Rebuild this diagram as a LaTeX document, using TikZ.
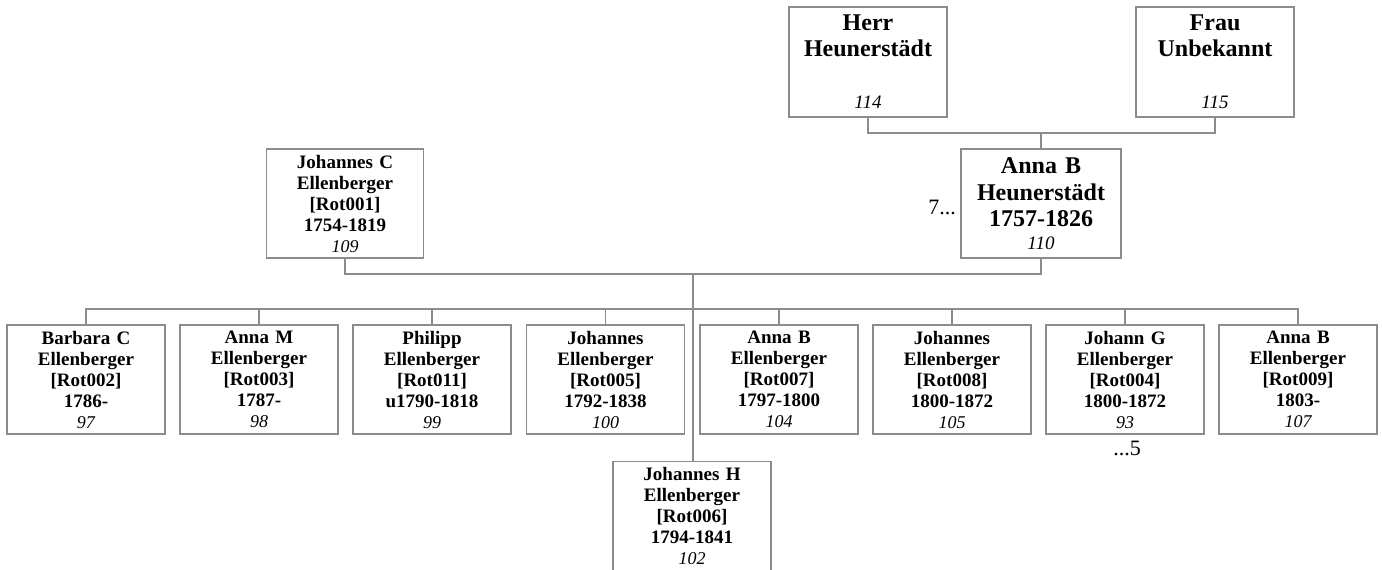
\documentclass[tikz,border=0pt]{standalone}
\usepackage{fontspec}
\setmainfont{Liberation Serif}
\definecolor{linegray}{RGB}{140,140,140}
\tikzset{
  person/.style={draw=linegray, line width=1.3pt, fill=white, minimum width=158pt, minimum height=109pt, inner sep=0pt, align=center, text width=156pt, font=\fontsize{19}{21}\selectfont\bfseries},
  bigperson/.style={person, font=\fontsize{24}{26}\selectfont\bfseries},
  conn/.style={draw=linegray, line width=1.3pt},
  extra/.style={inner sep=0pt, font=\fontsize{22}{24}\selectfont}
}
\newcommand{\kid}[5]{#1\\#2\\{}[#3]\\#4\\{\fontsize{18}{21}\selectfont\mdseries\itshape #5}}
\begin{document}
\begin{tikzpicture}[x=1pt,y=-1pt]
\useasboundingbox (0,0) rectangle (1382,570);
% grandparents
\node[bigperson, minimum height=110pt] (herr) at (868,62) {Herr\\Heunerstädt\\\mbox{}\\{\fontsize{19}{26}\selectfont\mdseries\itshape 114}};
\node[bigperson, minimum height=110pt] (frau) at (1215,62) {Frau\\Unbekannt\\\mbox{}\\{\fontsize{19}{26}\selectfont\mdseries\itshape 115}};
% parents
\node[bigperson, minimum width=160pt, font=\fontsize{24}{26.5}\selectfont\bfseries] (annaH) at (1041,203.5) {Anna B\\Heunerstädt\\1757-1826\\[-4pt]{\fontsize{19}{22}\selectfont\mdseries\itshape 110}};
\node[person, minimum width=157pt] (johC) at (345,203.5) {\kid{Johannes C}{Ellenberger}{Rot001}{1754-1819}{109}};
\node[extra, anchor=east] (seven) at (956,207) {7...};
% children
\node[person] (barbara) at (86,379.5) {\kid{Barbara C}{Ellenberger}{Rot002}{1786-}{97}};
\node[person] (annaM) at (259,379.5) {\kid{Anna M}{Ellenberger}{Rot003}{1787-}{98}};
\node[person] (philipp) at (432,379.5) {\kid{Philipp}{Ellenberger}{Rot011}{u1790-1818}{99}};
\node[person] (joh005) at (605.5,379.5) {\kid{Johannes}{Ellenberger}{Rot005}{1792-1838}{100}};
\node[person] (annaB007) at (779,379.5) {\kid{Anna B}{Ellenberger}{Rot007}{1797-1800}{104}};
\node[person] (joh008) at (952,379.5) {\kid{Johannes}{Ellenberger}{Rot008}{1800-1872}{105}};
\node[person] (johG) at (1125,379.5) {\kid{Johann G}{Ellenberger}{Rot004}{1800-1872}{93}};
\node[person] (annaB009) at (1298,379.5) {\kid{Anna B}{Ellenberger}{Rot009}{1803-}{107}};
\node[person] (johH) at (692,516) {\kid{Johannes H}{Ellenberger}{Rot006}{1794-1841}{102}};
\node[extra] (five) at (1127,448) {...5};
% connectors
\coordinate (gp) at (1041,133);
\draw[conn] (herr.south) |- (gp);
\draw[conn] (frau.south) |- (gp);
\draw[conn] (gp) -- (annaH.north);
\coordinate (pj) at (693,274);
\draw[conn] (johC.south) |- (pj) -| (annaH.south);
\draw[conn] (pj) -- (johH.north -| pj);
\coordinate (sb) at (693,309);
\foreach \c in {barbara,annaM,philipp,joh005,annaB007,joh008,johG,annaB009}
  \draw[conn] (\c.north) |- (sb);
\end{tikzpicture}
\end{document}
